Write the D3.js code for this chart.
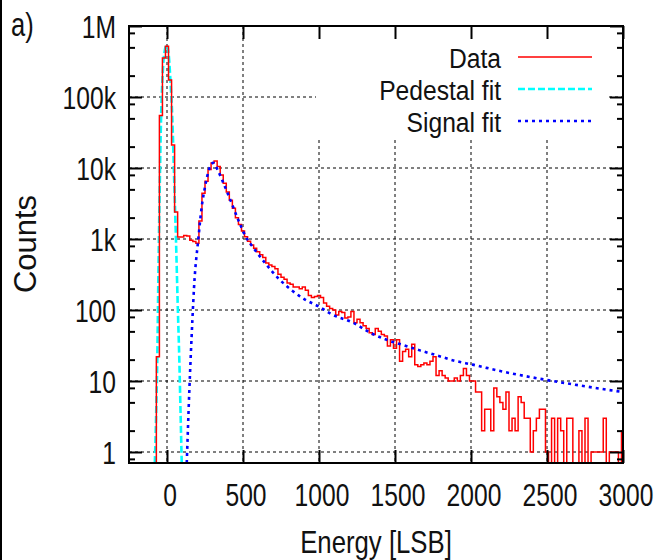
<!DOCTYPE html>
<html>
<head>
<meta charset="utf-8">
<script src="https://cdn.jsdelivr.net/npm/d3@7"></script>
<style>
    body { margin: 0; background: #fff; }
    svg text { font-family: "Liberation Sans", Arial, sans-serif; fill: #111; }
</style>
</head>
<body>
<div id="chart"></div>
<script>
// histogram: 20 LSB bins, first bin starts at -70
const binStart = -70;
const binWidth = 20;
const counts = [
    22, 55000, 355000, 520000, 174000, 21000, 2400, 1070, 1070, 1120,
    1100, 960, 920, 870, 1800, 4400, 6500, 9500, 11800, 12500,
    10500, 8000, 6100, 4600, 3500, 2700, 2000, 1600, 1300, 1080,
    930, 820, 740, 660, 600, 550, 460, 430, 410, 380,
    320, 290, 270, 240, 230, 210, 210, 200, 210, 190,
    160, 150, 155, 160, 150, 125, 113, 105, 100, 85,
    95, 92, 77, 80, 95, 66, 74, 66, 60, 55,
    48, 45, 55, 50, 45, 43, 31, 38, 29, 38,
    19, 26, 28, 22, 33, 17, 16, 17, 18, 17,
    19, 22, 12, 14, 12, 11, 10, 10, 11, 10,
    12, 15, 12, 10, 10, 7, 7, 2, 4, 4,
    2, 8, 6, 5, 4, 7, 2, 3, 2, 6,
    5, 3, 3, 1, 2, 3, 4, 4, 1, 0,
    3, 0, 3, 2, 0, 3, 3, 0, 0, 2,
    0, 3, 0, 1, 1, 1, 1, 3, 0, 1,
    1, 1, 0, 2
];

// fit curves
const pedestalE = [-80, -72, -64, -56, -48, -39, -28, -15, -2, 10, 22, 35, 47, 59, 70, 81, 90, 97];
const pedestalC = [0.7, 3, 20, 400, 5000, 50000, 220000, 450000, 540000, 420000, 180000, 50000, 7000, 1000, 130, 20, 3, 0.7];

const signalE = [130, 147, 167, 178, 206, 228, 250, 283, 305, 338, 382, 425, 469, 513, 579, 645, 732, 820, 908, 995, 1083, 1226, 1336, 1445, 1555, 1664, 1774, 1884, 2011, 2213, 2502, 2739, 2958, 3000];
const signalC = [0.7, 7.4, 72, 210, 1000, 2800, 5400, 10400, 11800, 8900, 5400, 3200, 1850, 1130, 700, 460, 280, 190, 140, 113, 87, 66, 48, 38, 32, 27, 23, 19.5, 17, 13.5, 10.3, 8.5, 7.2, 7];

const xTicks = [0, 500, 1000, 1500, 2000, 2500, 3000];
const yTicks = [1, 10, 100, 1000, 10000, 100000, 1000000];
const yTickLabels = ["1", "10", "100", "1k", "10k", "100k", "1M"];
const yMinorFactors = [2, 5, 8];

const legendNames = ["Data", "Pedestal fit", "Signal fit"];

const W = 658, H = 560;
const pL = 129, pR = 623, pT = 26, pB = 463;

const svg = d3.select("#chart").append("svg")
    .attr("width", W)
    .attr("height", H);

// black strip on the left edge of the picture
svg.append("rect").attr("x", 0).attr("y", 0).attr("width", 2).attr("height", H).attr("fill", "#000");

const x = d3.scaleLinear().domain([-250, 3000]).range([pL, pR]);
const y = d3.scaleLog().domain([0.7, 1e6]).range([pB, pT]);

// tall, narrow looking text like the original's font
function narrow(g, px, py, txt, anchor, size, sx, sy) {
    return g.append("text")
        .attr("transform", "translate(" + px + "," + py + ") scale(" + (sx || 0.88) + "," + (sy || 1.15) + ")")
        .attr("text-anchor", anchor)
        .style("font-size", size + "px")
        .text(txt);
}

// grid
const grid = svg.append("g").attr("stroke", "#000").attr("stroke-width", 1).attr("stroke-dasharray", "3,3");
grid.selectAll(".gy").data(yTicks.slice(0, -1)).join("line")
    .attr("x1", pL).attr("x2", pR)
    .attr("y1", d => y(d)).attr("y2", d => y(d));
grid.selectAll(".gx").data(xTicks.slice(0, -1)).join("line")
    .attr("x1", d => x(d)).attr("x2", d => x(d))
    .attr("y1", pT).attr("y2", pB);

// key box blanks the grid behind it
svg.append("rect").attr("x", 316).attr("y", pT + 1).attr("width", 292).attr("height", 110).attr("fill", "#fff");

svg.append("clipPath").attr("id", "plot")
    .append("rect").attr("x", pL).attr("y", pT).attr("width", pR - pL).attr("height", pB - pT);

const plot = svg.append("g").attr("clip-path", "url(#plot)");

// histogram as steps
let pts = [[binStart, 0.3]];
counts.forEach((c, i) => pts.push([binStart + i * binWidth, c]));
pts.push([binStart + counts.length * binWidth, counts[counts.length - 1]]);

const step = d3.line()
    .x(d => x(d[0]))
    .y(d => y(Math.max(d[1], 0.3)))
    .curve(d3.curveStepAfter);

const fit = d3.line()
    .x(d => x(d[0]))
    .y(d => y(d[1]))
    .curve(d3.curveMonotoneX);

plot.append("path")
    .datum(pedestalE.map((e, i) => [e, pedestalC[i]]))
    .attr("d", fit)
    .attr("fill", "none")
    .attr("stroke", "#00ffff")
    .attr("stroke-width", 2.6)
    .attr("stroke-dasharray", "7,3");

plot.append("path")
    .datum(pts)
    .attr("d", step)
    .attr("fill", "none")
    .attr("stroke", "#ff0000")
    .attr("stroke-width", 1.5);

plot.append("path")
    .datum(signalE.map((e, i) => [e, signalC[i]]))
    .attr("d", fit)
    .attr("fill", "none")
    .attr("stroke", "#0000ff")
    .attr("stroke-width", 2.6)
    .attr("stroke-dasharray", "3,4");

// ticks, all pointing inward
let yMinor = [];
[0.1, 1, 10, 100, 1000, 10000, 100000].forEach(dec => {
    yMinorFactors.forEach(f => {
        const v = dec * f;
        if (v > 0.7 && v < 1e6) yMinor.push(v);
    });
});

function noDomain(g) { g.select(".domain").remove(); }

svg.append("g").attr("transform", "translate(0," + pB + ")")
    .call(d3.axisBottom(x).tickValues(xTicks).tickSize(-13).tickFormat("")).call(noDomain);
svg.append("g").attr("transform", "translate(0," + pT + ")")
    .call(d3.axisTop(x).tickValues(xTicks).tickSize(-13).tickFormat("")).call(noDomain);
svg.append("g").attr("transform", "translate(" + pL + ",0)")
    .call(d3.axisLeft(y).tickValues(yTicks).tickSize(-13).tickFormat("")).call(noDomain);
svg.append("g").attr("transform", "translate(" + pL + ",0)")
    .call(d3.axisLeft(y).tickValues(yMinor).tickSize(-6).tickFormat("")).call(noDomain);
svg.append("g").attr("transform", "translate(" + pR + ",0)")
    .call(d3.axisRight(y).tickValues(yTicks).tickSize(-13).tickFormat("")).call(noDomain);
svg.append("g").attr("transform", "translate(" + pR + ",0)")
    .call(d3.axisRight(y).tickValues(yMinor).tickSize(-6).tickFormat("")).call(noDomain);
svg.selectAll(".tick line").attr("stroke", "#000").attr("stroke-width", 2);

// frame
svg.append("rect")
    .attr("x", pL).attr("y", pT)
    .attr("width", pR - pL).attr("height", pB - pT)
    .attr("fill", "none").attr("stroke", "#000").attr("stroke-width", 2);

// tick labels
const labels = svg.append("g");
yTicks.forEach((v, i) => narrow(labels, 116, y(v) + 12, yTickLabels[i], "end", 28));
xTicks.forEach(v => narrow(labels, x(v) + 3, 506, String(v), "middle", 28));

// axis titles
narrow(svg, 376, 553, "Energy [LSB]", "middle", 28, 0.92);
svg.append("text")
    .attr("transform", "translate(36,244) rotate(-90)")
    .attr("text-anchor", "middle")
    .style("font-size", "31px")
    .text("Counts");
narrow(svg, 11, 36, "a)", "start", 29);

// legend
const key = svg.append("g");
const keyStyles = [
    { color: "#ff0000", width: 1.5, dash: null },
    { color: "#00ffff", width: 2.6, dash: "7,3" },
    { color: "#0000ff", width: 2.6, dash: "3,4" }
];
legendNames.forEach((name, i) => {
    const cy = 57 + i * 32;
    narrow(key, 501, cy + 11, name, "end", 28, 0.88, 1.0);
    key.append("line")
        .attr("x1", 518).attr("x2", 592)
        .attr("y1", cy).attr("y2", cy)
        .attr("stroke", keyStyles[i].color)
        .attr("stroke-width", keyStyles[i].width)
        .attr("stroke-dasharray", keyStyles[i].dash);
});
</script>
</body>
</html>
